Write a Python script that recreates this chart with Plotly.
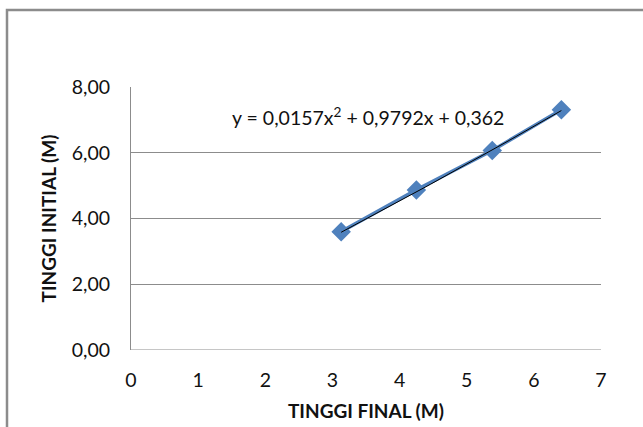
import numpy as np
import plotly.graph_objects as go

# Data
tinggi_final = [3.13, 4.25, 5.38, 6.41]
tinggi_initial = [3.60, 4.87, 6.07, 7.31]
trend_coef = [0.0157, 0.9792, 0.362]  # y = a x^2 + b x + c (Excel trendline label)
equation_text = "y = 0,0157x<sup>2</sup> + 0,9792x + 0,362"
x_title = "TINGGI FINAL (M)"
y_title = "TINGGI INITIAL (M)"

FONT = "Lato"
BLUE = "#4F81BD"
GRID = "#8C8C8C"
TXT = "#111111"

xt = np.linspace(min(tinggi_final), max(tinggi_final), 60)
yt = trend_coef[0] * xt**2 + trend_coef[1] * xt + trend_coef[2]

fig = go.Figure()
fig.add_trace(go.Scatter(
    x=tinggi_final, y=tinggi_initial, mode="lines+markers",
    line=dict(color=BLUE, width=3.5),
    marker=dict(symbol="diamond", size=15, color=BLUE),
    showlegend=False, hoverinfo="skip"))
fig.add_trace(go.Scatter(
    x=xt, y=yt, mode="lines", line=dict(color="black", width=1),
    showlegend=False, hoverinfo="skip"))

fig.add_annotation(x=3.53, y=7.11, xref="x", yref="y", text=equation_text,
                   showarrow=False,
                   font=dict(family=FONT, size=19.5, color=TXT))

W, H = 643, 427
L, T, PW, PH = 131, 87, 470, 262.6
fig.update_layout(
    width=W, height=H,
    margin=dict(l=L, r=W - L - PW, t=T, b=H - T - PH),
    paper_bgcolor="white", plot_bgcolor="white",
    separators=",.",
    font=dict(family=FONT, size=19, color=TXT),
    xaxis=dict(range=[0, 7], dtick=1, showgrid=False, zeroline=False,
               showline=False, ticks="", tickfont=dict(size=19.5),
               ticklabelstandoff=16, automargin=False,
               title=dict(text="<b>" + x_title + "</b>", font=dict(size=19), standoff=15)),
    yaxis=dict(range=[0, 8], dtick=2, tickformat=".2f", showgrid=True,
               gridcolor=GRID, gridwidth=1, zeroline=False,
               showline=True, linecolor=GRID, linewidth=1, ticks="",
               tickfont=dict(size=19.5), ticklabelstandoff=16, automargin=False,
               title=dict(text="<b>" + y_title + "</b>", font=dict(size=19), standoff=10)),
    shapes=[
        dict(type="line", xref="paper", yref="y", x0=0, x1=1, y0=0, y1=0,
             line=dict(color=GRID, width=1)),
        dict(type="rect", xref="paper", yref="paper",
             x0=(7 - L) / PW, x1=1.4, y0=-0.6, y1=1 + (T - 10) / PH,
             line=dict(color="#8C8C8C", width=2.5), layer="below"),
    ],
)

fig.write_html(
    "out.html",
    config={"displayModeBar": False},
    post_script="document.body.style.margin='0';document.body.style.overflow='hidden';",
)
